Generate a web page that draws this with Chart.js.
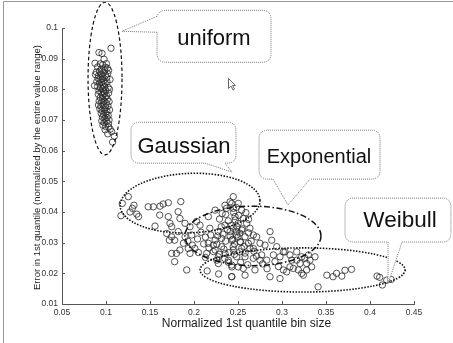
<!DOCTYPE html>
<html>
<head>
<meta charset="utf-8">
<script src="https://cdn.jsdelivr.net/npm/chart.js@4/dist/chart.umd.min.js"></script>
<style>
  html, body { margin: 0; padding: 0; background: #fff; }
  canvas { display: block; }
</style>
</head>
<body>
<canvas id="grafico" width="453" height="343"></canvas>
<script>
// ejes
const xTicks = [0.05, 0.1, 0.15, 0.2, 0.25, 0.3, 0.35, 0.4, 0.45];
const xTickLabels = ['0.05', '0.1', '0.15', '0.2', '0.25', '0.3', '0.35', '0.4', '0.45'];
const yTicks = [0.01, 0.02, 0.03, 0.04, 0.05, 0.06, 0.07, 0.08, 0.09, 0.1];
const yTickLabels = ['0.01', '0.02', '0.03', '0.04', '0.05', '0.06', '0.07', '0.08', '0.09', '0.1'];

// puntos del grupo "uniform" (x, y)
const uniformPts = [
  [0.0920,0.0920],[0.0955,0.0917],[0.1057,0.0934],[0.0875,0.0885],[0.0978,0.0898],[0.0935,0.0883],
  [0.0962,0.0880],[0.1005,0.0884],[0.0992,0.0872],[0.0905,0.0873],[0.1015,0.0869],[0.0948,0.0866],
  [0.0925,0.0859],[0.1030,0.0862],[0.0890,0.0856],[0.0970,0.0854],[0.0985,0.0861],
  [0.0880,0.0848],[0.0915,0.0845],[0.0940,0.0850],[0.0960,0.0842],[0.0995,0.0846],[0.1020,0.0851],
  [0.0910,0.0836],[0.0932,0.0831],[0.0958,0.0834],[0.0975,0.0828],[0.1008,0.0838],[0.1045,0.0832],
  [0.0895,0.0825],[0.0925,0.0820],[0.0950,0.0822],[0.0968,0.0815],[0.0990,0.0819],[0.1012,0.0824],
  [0.0870,0.0812],[0.0905,0.0809],[0.0938,0.0805],[0.0960,0.0802],[0.0985,0.0808],[0.1025,0.0806],
  [0.0920,0.0795],[0.0945,0.0790],[0.0972,0.0793],[0.0998,0.0797],[0.1040,0.0800],[0.0912,0.0784],
  [0.0958,0.0781],[0.0980,0.0786],[0.1005,0.0779],[0.1030,0.0788],
  [0.0935,0.0773],[0.0962,0.0770],[0.0990,0.0775],[0.1015,0.0768],[0.0922,0.0762],[0.0950,0.0758],
  [0.0978,0.0762],[0.1002,0.0755],[0.1035,0.0760],[0.0915,0.0749],[0.0942,0.0745],[0.0968,0.0748],
  [0.0995,0.0741],[0.1022,0.0746],[0.0930,0.0736],[0.0955,0.0731],[0.0985,0.0734],[0.1010,0.0728],
  [0.1040,0.0733],[0.0945,0.0722],[0.0972,0.0718],[0.0998,0.0721],[0.1025,0.0715],[0.0960,0.0709],
  [0.0988,0.0705],[0.1012,0.0708],[0.1035,0.0700],[0.0952,0.0697],[0.0978,0.0692],[0.1003,0.0695],
  [0.1028,0.0688],[0.0965,0.0683],[0.0995,0.0679],[0.1030,0.0677],[0.0990,0.0668],[0.1048,0.0670],
  [0.1065,0.0662],[0.1095,0.0647],[0.1075,0.0628],[0.1020,0.0655]
];

// resto de puntos (Gaussian, Exponential, Weibull)
const restoPts = [
  [0.1185,0.0428],[0.1253,0.0450],[0.1318,0.0422],[0.1170,0.0388],[0.1273,0.0400],[0.1350,0.0393],
  [0.1300,0.0412],[0.1480,0.0417],[0.1538,0.0417],[0.1614,0.0419],[0.1650,0.0426],[0.1708,0.0430],
  [0.1610,0.0390],[0.1708,0.0385],[0.1557,0.0354],[0.1727,0.0363],[0.1746,0.0352],[0.1690,0.0330],
  [0.1746,0.0319],[0.1780,0.0308],[0.1720,0.0308],[0.1746,0.0265],[0.1780,0.0238],[0.1370,0.0385],
  [0.1850,0.0434],
  [0.1820,0.0401],[0.1840,0.0379],[0.1898,0.0363],[0.1955,0.0352],[0.2030,0.0369],[0.2068,0.0357],
  [0.2163,0.0385],[0.2240,0.0406],[0.2352,0.0422],[0.2410,0.0433],[0.1820,0.0336],[0.1898,0.0319],
  [0.1974,0.0325],[0.2180,0.0347],[0.2276,0.0336],[0.2352,0.0357],[0.2410,0.0336],[0.2314,0.0314],
  [0.2430,0.0308],[0.2240,0.0308],
  [0.1840,0.0276],[0.1800,0.0265],[0.1935,0.0281],[0.2010,0.0281],[0.1955,0.0265],[0.2163,0.0298],
  [0.2144,0.0265],[0.2240,0.0276],[0.2276,0.0254],[0.2352,0.0265],[0.2390,0.0243],[0.2430,0.0221],
  [0.2276,0.0232],[0.1917,0.0211],[0.2430,0.0189],[0.2314,0.0287],[0.2220,0.0292],
  [0.2446,0.0450],[0.2503,0.0428],[0.2446,0.0412],[0.2542,0.0406],[0.2466,0.0385],[0.2560,0.0379],
  [0.2503,0.0363],[0.2598,0.0363],[0.2446,0.0347],[0.2542,0.0341],[0.2636,0.0347],[0.2485,0.0325],
  [0.2580,0.0319],[0.2674,0.0325],[0.2523,0.0303],[0.2617,0.0298],[0.2712,0.0319],[0.2750,0.0298],
  [0.2807,0.0292],[0.2864,0.0336],[0.2883,0.0308],[0.2446,0.0287],[0.2940,0.0287],[0.2674,0.0281],
  [0.2446,0.0276],[0.2542,0.0281],[0.2636,0.0281],[0.2485,0.0254],[0.2580,0.0254],[0.2674,0.0249],
  [0.2769,0.0260],[0.2826,0.0243],[0.2902,0.0260],[0.2977,0.0254],[0.3034,0.0270],[0.2428,0.0227],
  [0.2503,0.0221],[0.2560,0.0216],[0.2693,0.0211],[0.2428,0.0189],[0.2580,0.0194],[0.2864,0.0189],
  [0.2977,0.0183],[0.3053,0.0205],[0.2750,0.0243],
  [0.3015,0.0270],[0.3090,0.0260],[0.3167,0.0243],[0.3224,0.0254],[0.3280,0.0232],[0.3090,0.0221],
  [0.3186,0.0211],[0.3243,0.0194],[0.3015,0.0211],[0.2150,0.0208],[0.2280,0.0198],
  [0.3110,0.0243],[0.3167,0.0270],[0.3205,0.0232],[0.3260,0.0249],[0.3300,0.0260],[0.3318,0.0243],
  [0.3375,0.0254],[0.3337,0.0221],[0.3224,0.0200],[0.3129,0.0216],[0.3280,0.0211],
  [0.3510,0.0194],[0.3580,0.0189],[0.3620,0.0200],[0.3680,0.0191],[0.3716,0.0210],[0.3790,0.0213],
  [0.3410,0.0156],[0.4080,0.0191],[0.4110,0.0187],[0.4190,0.0178],[0.4240,0.0180],[0.4140,0.0162],
  [0.236,0.0392],[0.239,0.0371],[0.242,0.0356],[0.245,0.0398],[0.247,0.0374],[0.249,0.0351],
  [0.251,0.0389],[0.252,0.0331],[0.238,0.0342],[0.241,0.0322],[0.244,0.0311],[0.246,0.0296],
  [0.248,0.0337],[0.250,0.0318],[0.253,0.0302],[0.255,0.0345],[0.257,0.0288],[0.236,0.0305],
  [0.233,0.0328],[0.231,0.0352],[0.229,0.0377],[0.227,0.0322],[0.226,0.0295],[0.234,0.0279],
  [0.240,0.0268],[0.246,0.0262],[0.252,0.0270],[0.258,0.0266],[0.262,0.0332],[0.259,0.0398],
  [0.248,0.0415],[0.243,0.0428],[0.237,0.0412],[0.232,0.0395],[0.219,0.0325],[0.213,0.0318],
  [0.208,0.0334],[0.204,0.0312],[0.211,0.0296],[0.217,0.0283],[0.222,0.0271],[0.229,0.0262],
  [0.235,0.0248],[0.239,0.0236],[0.226,0.0243],[0.213,0.0252],[0.205,0.0268],[0.198,0.0292],
  [0.193,0.0305],[0.188,0.0298],[0.253,0.0236],[0.261,0.0228],[0.265,0.0305],[0.268,0.0272],
  [0.271,0.0256],[0.278,0.0231],[0.283,0.0215],[0.292,0.0238],[0.296,0.0222],[0.262,0.0376]
];

// elipses (centro y radios en unidades de datos)
const elipses = [
  { cx: 0.0989, cy: 0.0835, rx: 0.0193, ry: 0.0249, rot: 0, dash: [3.5, 2.5], w: 1.2 },   // uniform
  { cx: 0.1955, cy: 0.0429, rx: 0.0795, ry: 0.0097, rot: -0.04, dash: [1.5, 1.5], w: 1.6 }, // Gaussian
  { cx: 0.2670, cy: 0.0322, rx: 0.0773, ry: 0.0097, rot: 0, dash: [6, 2.5, 1.5, 2.5], w: 1.5 }, // Exponential
  { cx: 0.3234, cy: 0.0211, rx: 0.1165, ry: 0.0072, rot: 0, dash: [1.5, 1.5], w: 1.6 }      // Weibull
];

// globos de texto
const globos = [
  { texto: 'uniform', caja: [0.1580, 0.2875, 0.10577, 0.08883],
    cola: [[0.1580, 0.10381], [0.1182, 0.09893], [0.1580, 0.09860]], tx: 0.2227, ty: 0.09436, size: 22 },
  { texto: 'Gaussian', caja: [0.1284, 0.2477, 0.06928, 0.05593],
    cola: [[0.2125, 0.05593], [0.2432, 0.0530], [0.2352, 0.05593]], tx: 0.1886, ty: 0.0592, size: 22 },
  { texto: 'Exponential', caja: [0.2739, 0.4114, 0.06668, 0.05072],
    cola: [[0.2898, 0.05072], [0.3068, 0.04225], [0.3318, 0.05072]], tx: 0.3420, ty: 0.05593, size: 20 },
  { texto: 'Weibull', caja: [0.3716, 0.4920, 0.04453, 0.0302],
    cola: [[0.4205, 0.0302], [0.4205, 0.01661], [0.4364, 0.0302]], tx: 0.4341, ty: 0.03508, size: 22.5 }
];

const puntero = [0.23864, 0.08362];

function rectRedondo(ctx, x1, y1, x2, y2, r) {
  ctx.beginPath();
  ctx.moveTo(x1 + r, y1);
  ctx.lineTo(x2 - r, y1);
  ctx.quadraticCurveTo(x2, y1, x2, y1 + r);
  ctx.lineTo(x2, y2 - r);
  ctx.quadraticCurveTo(x2, y2, x2 - r, y2);
  ctx.lineTo(x1 + r, y2);
  ctx.quadraticCurveTo(x1, y2, x1, y2 - r);
  ctx.lineTo(x1, y1 + r);
  ctx.quadraticCurveTo(x1, y1, x1 + r, y1);
  ctx.closePath();
}

const anotaciones = {
  id: 'anotaciones',
  afterDatasetsDraw(chart) {
    const ctx = chart.ctx;
    const sx = chart.scales.x, sy = chart.scales.y;
    const px = v => sx.getPixelForValue(v);
    const py = v => sy.getPixelForValue(v);
    const area = chart.chartArea;
    ctx.save();

    // marcas de los ejes hacia dentro
    ctx.strokeStyle = '#555';
    ctx.lineWidth = 1;
    xTicks.forEach(v => {
      const x = Math.round(px(v)) + 0.5;
      ctx.beginPath(); ctx.moveTo(x, area.bottom); ctx.lineTo(x, area.bottom - 3); ctx.stroke();
    });
    yTicks.forEach(v => {
      const y = Math.round(py(v)) + 0.5;
      ctx.beginPath(); ctx.moveTo(area.left, y); ctx.lineTo(area.left + 3, y); ctx.stroke();
    });

    // elipses
    ctx.strokeStyle = '#111';
    elipses.forEach(e => {
      const cx = px(e.cx), cy = py(e.cy);
      const rx = Math.abs(px(e.cx + e.rx) - cx);
      const ry = Math.abs(py(e.cy + e.ry) - cy);
      ctx.setLineDash(e.dash);
      ctx.lineWidth = e.w;
      ctx.beginPath();
      ctx.ellipse(cx, cy, rx, ry, e.rot, 0, Math.PI * 2);
      ctx.stroke();
    });

    // globos
    globos.forEach(g => {
      const x1 = px(g.caja[0]), x2 = px(g.caja[1]);
      const y1 = py(g.caja[2]), y2 = py(g.caja[3]);
      ctx.setLineDash([]);
      ctx.fillStyle = '#fff';
      rectRedondo(ctx, x1, y1, x2, y2, 9);
      ctx.fill();
      ctx.setLineDash([1, 1]);
      ctx.lineWidth = 1;
      ctx.strokeStyle = '#777';
      ctx.stroke();

      const c = g.cola.map(p => [px(p[0]), py(p[1])]);
      ctx.setLineDash([]);
      ctx.fillStyle = '#fff';
      ctx.beginPath();
      ctx.moveTo(c[0][0], c[0][1]); ctx.lineTo(c[1][0], c[1][1]); ctx.lineTo(c[2][0], c[2][1]);
      ctx.closePath();
      ctx.fill();
      ctx.strokeStyle = '#fff';
      ctx.lineWidth = 2.5;
      ctx.beginPath(); ctx.moveTo(c[0][0], c[0][1]); ctx.lineTo(c[2][0], c[2][1]); ctx.stroke();
      ctx.setLineDash([1, 1]);
      ctx.lineWidth = 1;
      ctx.strokeStyle = '#777';
      ctx.beginPath();
      ctx.moveTo(c[0][0], c[0][1]); ctx.lineTo(c[1][0], c[1][1]); ctx.lineTo(c[2][0], c[2][1]);
      ctx.stroke();

      ctx.setLineDash([]);
      ctx.fillStyle = '#111';
      ctx.font = g.size + 'px "Liberation Sans", Arial, sans-serif';
      ctx.textAlign = 'center';
      ctx.textBaseline = 'alphabetic';
      ctx.fillText(g.texto, px(g.tx), py(g.ty));
    });

    // puntero del raton
    const mx = Math.round(px(puntero[0])) + 0.5, my = Math.round(py(puntero[1])) + 0.5;
    ctx.setLineDash([]);
    ctx.fillStyle = '#fff';
    ctx.strokeStyle = '#666';
    ctx.lineWidth = 1;
    ctx.beginPath();
    ctx.moveTo(mx, my);
    ctx.lineTo(mx, my + 10);
    ctx.lineTo(mx + 2.5, my + 7.5);
    ctx.lineTo(mx + 4.5, my + 11.5);
    ctx.lineTo(mx + 6, my + 10.5);
    ctx.lineTo(mx + 4, my + 7);
    ctx.lineTo(mx + 7, my + 7);
    ctx.closePath();
    ctx.fill();
    ctx.stroke();

    // titulos de los ejes
    ctx.fillStyle = '#222';
    ctx.textAlign = 'center';
    ctx.textBaseline = 'alphabetic';
    ctx.font = '12px "Liberation Sans", Arial, sans-serif';
    ctx.fillText('Normalized 1st quantile bin size', 246.5, 327);
    ctx.save();
    ctx.translate(40, 167.5);
    ctx.rotate(-Math.PI / 2);
    ctx.font = '9.5px "Liberation Sans", Arial, sans-serif';
    ctx.fillText('Error in 1st quantile (normalized by the entire value range)', 0, 0);
    ctx.restore();

    // marco gris de la figura
    ctx.strokeStyle = '#999';
    ctx.lineWidth = 1;
    ctx.beginPath();
    ctx.moveTo(3.5, 343); ctx.lineTo(3.5, 1.5); ctx.lineTo(453, 1.5);
    ctx.stroke();

    ctx.restore();
  }
};

const estiloPunto = {
  pointRadius: 3.2,
  pointBorderWidth: 0.8,
  borderColor: '#2a2a2a',
  backgroundColor: 'rgba(0,0,0,0)',
  showLine: false
};

const fuenteTicks = { family: '"Liberation Sans", Arial, sans-serif', size: 8.5 };

new Chart(document.getElementById('grafico'), {
  type: 'scatter',
  data: {
    datasets: [
      Object.assign({ label: 'uniform', data: uniformPts.map(p => ({ x: p[0], y: p[1] })) }, estiloPunto),
      Object.assign({ label: 'resto', data: restoPts.map(p => ({ x: p[0], y: p[1] })) }, estiloPunto)
    ]
  },
  options: {
    responsive: false,
    animation: false,
    layout: { padding: { top: 28, right: 39, left: 0, bottom: 0 } },
    plugins: { legend: { display: false }, tooltip: { enabled: false } },
    scales: {
      x: {
        type: 'linear',
        min: 0.05,
        max: 0.45,
        afterBuildTicks: s => { s.ticks = xTicks.map(v => ({ value: v })); },
        afterFit: s => { s.height = 39; },
        grid: { display: false, drawTicks: false },
        border: { display: true, color: '#555', width: 1 },
        ticks: {
          padding: 4,
          color: '#333',
          font: fuenteTicks,
          maxRotation: 0,
          autoSkip: false,
          callback: (v, i) => xTickLabels[i]
        }
      },
      y: {
        type: 'linear',
        min: 0.01,
        max: 0.1,
        afterBuildTicks: s => { s.ticks = yTicks.map(v => ({ value: v })); },
        afterFit: s => { s.width = 62; },
        grid: { display: false, drawTicks: false },
        border: { display: true, color: '#555', width: 1 },
        ticks: {
          padding: 4,
          color: '#333',
          font: fuenteTicks,
          autoSkip: false,
          callback: (v, i) => yTickLabels[i]
        }
      }
    }
  },
  plugins: [anotaciones]
});
</script>
</body>
</html>
